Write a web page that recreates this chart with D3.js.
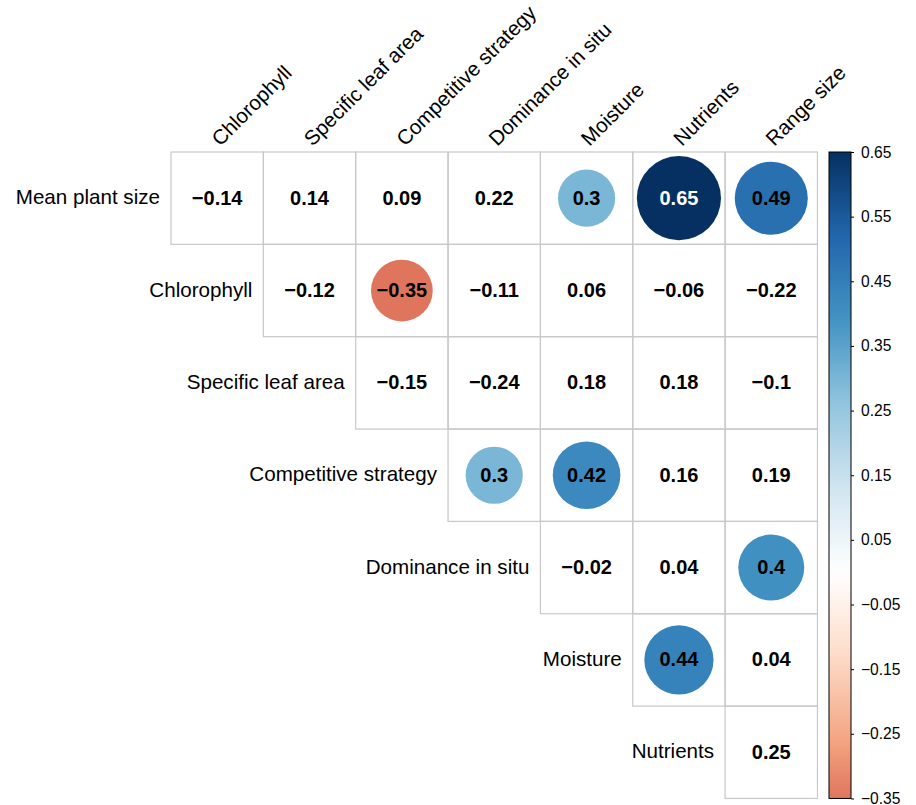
<!DOCTYPE html>
<html>
<head>
<meta charset="utf-8">
<script src="https://cdn.jsdelivr.net/npm/d3@7"></script>
<style>
  html, body { margin: 0; padding: 0; background: #fff; }
  svg { display: block; font-family: "Liberation Sans", Arial, Helvetica, sans-serif; }
</style>
</head>
<body>
<svg id="chart" width="916" height="805"></svg>
<script>
// Trait labels
const rowLabels = ["Mean plant size", "Chlorophyll", "Specific leaf area", "Competitive strategy",
                   "Dominance in situ", "Moisture", "Nutrients"];
const colLabels = ["Chlorophyll", "Specific leaf area", "Competitive strategy", "Dominance in situ",
                   "Moisture", "Nutrients", "Range size"];

// Upper-triangle correlations; row i starts at column i
const corrValues = [
  [-0.14, 0.14, 0.09, 0.22, 0.30, 0.65, 0.49],
  [-0.12, -0.35, -0.11, 0.06, -0.06, -0.22],
  [-0.15, -0.24, 0.18, 0.18, -0.10],
  [0.30, 0.42, 0.16, 0.19],
  [-0.02, 0.04, 0.40],
  [0.44, 0.04],
  [0.25]
];
// Significant correlations (drawn as circles)
const significant = [
  [0, 0, 0, 0, 1, 1, 1],
  [0, 1, 0, 0, 0, 0],
  [0, 0, 0, 0, 0],
  [1, 1, 0, 0],
  [0, 0, 1],
  [1, 0],
  [0]
];

// Colour bar ticks
const legendTicks = [0.65, 0.55, 0.45, 0.35, 0.25, 0.15, 0.05, -0.05, -0.15, -0.25, -0.35];

// RdBu palette (red -> white -> blue)
const palette = ["#67001F", "#B2182B", "#D6604D", "#F4A582", "#FDDBC7", "#FFFFFF",
                 "#D1E5F0", "#92C5DE", "#4393C3", "#2166AC", "#053061"];

const svg = d3.select("#chart");
const gridLeft = 171, gridTop = 152, cell = 92.35;
const n = colLabels.length;
const labelSize = 20.6;

const x = d3.scaleBand().domain(colLabels).range([gridLeft, gridLeft + n * cell]);
const y = d3.scaleBand().domain(rowLabels).range([gridTop, gridTop + n * cell]);

const color = d3.scaleLinear()
  .domain(d3.range(palette.length).map(i => -0.65 + 1.3 * i / (palette.length - 1)))
  .range(palette)
  .interpolate(d3.interpolateRgb)
  .clamp(true);
const radius = d3.scaleSqrt().domain([0, 1]).range([0, 0.565 * cell]);

const fmt = v => {
  const s = String(+v.toFixed(2));
  return s.replace("-", "\u2212");
};

// Flatten the triangle into cells
const cells = [];
corrValues.forEach((row, i) => {
  row.forEach((v, k) => {
    cells.push({ r: rowLabels[i], c: colLabels[i + k], v, sig: significant[i][k] === 1 });
  });
});

// Grid
svg.append("g").selectAll("rect").data(cells).join("rect")
  .attr("x", d => x(d.c)).attr("y", d => y(d.r))
  .attr("width", x.bandwidth()).attr("height", y.bandwidth())
  .attr("fill", "none").attr("stroke", "#c8c8c8").attr("stroke-width", 1.2);

// Circles
svg.append("g").selectAll("circle").data(cells.filter(d => d.sig)).join("circle")
  .attr("cx", d => x(d.c) + x.bandwidth() / 2)
  .attr("cy", d => y(d.r) + y.bandwidth() / 2)
  .attr("r", d => radius(Math.abs(d.v)))
  .attr("fill", d => color(d.v));

// Coefficients
svg.append("g").selectAll("text").data(cells).join("text")
  .attr("x", d => x(d.c) + x.bandwidth() / 2)
  .attr("y", d => y(d.r) + y.bandwidth() / 2 + 6.5)
  .attr("text-anchor", "middle")
  .attr("font-size", 20).attr("font-weight", "bold")
  .attr("fill", d => (d.sig && d3.lab(color(d.v)).l < 35) ? "#fff" : "#000")
  .text(d => fmt(d.v));

// Row labels, right-aligned before each row's first cell
svg.append("g").selectAll("text").data(rowLabels).join("text")
  .attr("x", (d, i) => x(colLabels[i]) - 11)
  .attr("y", d => y(d) + y.bandwidth() / 2 + 6)
  .attr("text-anchor", "end")
  .attr("font-size", labelSize)
  .attr("fill", "#000")
  .text(d => d);

// Column labels, rotated 45 degrees
svg.append("g").selectAll("text").data(colLabels).join("text")
  .attr("transform", d => `translate(${x(d) + x.bandwidth() / 2 + 3},${gridTop - 5}) rotate(-45)`)
  .attr("font-size", labelSize)
  .attr("fill", "#000")
  .text(d => d);

// Colour bar
const barX = 829, barW = 22;
const barScale = d3.scaleLinear().domain([-0.35, 0.65]).range([gridTop + n * cell, gridTop]);
const defs = svg.append("defs");
const grad = defs.append("linearGradient").attr("id", "bar-grad")
  .attr("x1", 0).attr("y1", 1).attr("x2", 0).attr("y2", 0);
d3.range(0, 1.0001, 0.02).forEach(t => {
  const v = -0.35 + t;
  grad.append("stop").attr("offset", t).attr("stop-color", color(v));
});
svg.append("rect")
  .attr("x", barX).attr("y", gridTop).attr("width", barW).attr("height", n * cell)
  .attr("fill", "url(#bar-grad)").attr("stroke", "#000").attr("stroke-width", 1);

const barAxis = d3.axisRight(barScale)
  .tickValues(legendTicks)
  .tickSize(3)
  .tickPadding(7)
  .tickFormat(fmt);
const ax = svg.append("g").attr("transform", `translate(${barX + barW},0)`).call(barAxis);
ax.select(".domain").remove();
ax.selectAll(".tick line").attr("stroke", "#000");
ax.selectAll(".tick text").attr("font-size", 15.6).attr("fill", "#000")
  .attr("font-family", "\"Liberation Sans\", Arial, sans-serif");
</script>
</body>
</html>
